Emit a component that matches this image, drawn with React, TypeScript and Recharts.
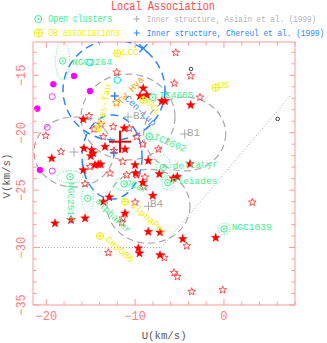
import { ScatterChart, Scatter, XAxis, YAxis, ReferenceLine } from 'recharts';

const W = 327;
const H = 343;
const LEFT = 33;
const RIGHT = 32;
const TOP = 42;
const BOTTOM = 38;
const X_MIN = -21.5;
const X_MAX = 8;
const Y_MIN = -35;
const Y_MAX = -12.1;
// pixels per km/s, used to turn ellipse radii (km/s) into screen radii
const PX_U = (W - LEFT - RIGHT) / (X_MAX - X_MIN);
const PX_V = (H - TOP - BOTTOM) / (Y_MAX - Y_MIN);

const FRAME = '#ff9a9a';
const TICK_TEXT = '#ff7c7c';
const GREEN = '#3cf08e';
const YELLOW = '#f0f000';
const ORANGE = '#ff9c00';
const GRAY = '#a8a8a8';
const BLUE = '#2c86ff';
const MONO = 'Liberation Mono, DejaVu Sans Mono, monospace';

const xTicks = [-20, -18, -16, -14, -12, -10, -8, -6, -4, -2, 0, 2, 4, 6, 8];
const xLabels = [-20, -10, 0];
const yTicks = [-35, -34, -33, -32, -31, -30, -29, -28, -27, -26, -25, -24, -23, -22, -21, -20, -19, -18, -17, -16, -15, -14, -13];
const yLabels = [-35, -30, -25, -20, -15];

// [U, V] km/s
const filledStars: [number, number][] = [
  [-9.08, -16.13], [-9.45, -16.8], [-8.7, -16.72], [-7.01, -17.24], [-6.64, -17.24], [-3.74, -17.59],
  [-15.84, -18.83], [-11.22, -19.61], [-15.76, -21.36], [-14.89, -21.5], [-14.71, -21.79], [-15.0, -22.03],
  [-13.39, -21.22], [-11.14, -21.44], [-14.52, -22.81], [-14.15, -22.75], [-13.88, -22.75], [-15.84, -23.25],
  [-10.01, -22.81], [-8.52, -22.44], [-9.94, -23.53], [-7.28, -23.59], [-9.15, -24.35], [-5.7, -23.97],
  [-5.25, -23.83], [-12.91, -25.62], [-13.58, -26.01], [-8.02, -25.48], [-19.02, -27.89], [-17.22, -27.6],
  [-15.64, -27.45], [-11.14, -27.02], [-8.52, -28.62], [-7.2, -28.67], [-9.64, -30.06], [-9.51, -30.5],
  [-7.2, -30.65], [-4.64, -29.25], [-0.93, -29.14], [-19.39, -22.23], [-3.82, -22.72],
];
const openStars: [number, number][] = [
  [-5.43, -13.03], [-12.08, -14.74], [-3.74, -15.06], [-5.59, -15.7], [-2.7, -16.92], [-15.19, -18.54],
  [-13.84, -19.27], [-12.46, -19.48], [-14.63, -19.7], [-13.58, -20.35], [-10.66, -19.61], [-9.82, -20.35],
  [-12.38, -21.57], [-9.15, -21.01], [-7.39, -21.44], [-15.08, -22.96], [-11.4, -22.52], [-12.83, -23.53],
  [-15.64, -24.46], [-9.0, -24.7], [-20.07, -20.26], [-18.35, -21.65], [-11.4, -27.45], [-11.51, -27.83],
  [-10.01, -26.06], [-13.02, -30.45], [-6.72, -30.88], [-9.82, -23.68], [-8.89, -23.88], [-10.95, -23.68],
  [-4.19, -29.86], [3.19, -26.06], [-5.62, -32.19], [-5.25, -32.54], [-3.63, -33.84], [-0.14, -33.69],
];
const magentaFilled: [number, number][] = [
  [-16.88, -15.06], [-19.21, -15.78], [-15.08, -16.37], [-21.02, -17.9], [-20.71, -23.25],
];
const magentaOpen: [number, number][] = [[-19.33, -16.86], [-19.89, -19.53], [-19.33, -23.33]];
const cyanOpen: [number, number][] = [[-15.08, -13.9], [-12.01, -15.41]];
const blackOpen: [number, number][] = [[-3.71, -14.45], [6.05, -18.8]];

// open clusters: name, U, V, ellipse radii (km/s)
const clusterNames = ['NGC2264', 'IC4665', 'IC2602', 'deltaLyr', 'Pleiades', 'NGC1039', 'NGC2516', 'alphaPer', 'oCar'];
const clusterU = [-18.16, -8.02, -8.4, -6.83, -6.33, 0.01, -17.33, -15.34, -11.25];
const clusterV = [-13.75, -16.92, -20.35, -23.01, -24.35, -28.38, -23.83, -25.71, -24.46];
const clusterRu = [0.8, 0.45, 0.45, 0.8, 0.68, 0.68, 1.46, 0.68, 1.1];
const clusterRv = [1.65, 0.4, 0.4, 1.1, 0.61, 0.48, 0.52, 1.22, 0.6];
const clusterLabelU = [-17.11, -7.28, -7.99, -5.77, -5.88, 0.87, -17.56, -14.52, -11.14];
const clusterLabelV = [-14.1, -17.0, -20.55, -23.16, -24.46, -28.43, -24.29, -26.0, -24.46];
const clusterLabelAngle = [0, 0, 22, -3, 0, 0, 90, 45, 24];

// OB associations
const obNames = ['LCC', 'US', 'UCL', 'Cas-Tau', 'alphaPer', 'CepOB6'];
const obU = [-12.01, -0.93, -9.08, -14.15, -11.14, -13.96];
const obV = [-13.08, -16.08, -17.15, -19.61, -26.01, -28.99];
const obLabelU = [-11.51, -0.67, -8.78, -13.5, -10.58, -13.39];
const obLabelV = [-13.19, -16.11, -17.41, -19.24, -26.38, -29.34];
const obLabelAngle = [0, 0, 48, -80, 41, 42];

// TW Hya association
const twHya = { u: -12.12, v: -17.41, text: 'TW Hya', labelU: -11.55, labelV: -17.6, angle: -48 };

// inner structures, Asiain et al. (1999)
const asiainNames = ['B1', 'B2', 'B3', 'B4'];
const asiainU = [-4.42, -10.8, -16.88, -8.5];
const asiainV = [-20.11, -18.63, -21.68, -26.4];
const asiainRu = [4.62, 5.29, 4.5, 4.67];
const asiainRv = [3.22, 3.74, 3.05, 3.22];
const asiainLabelU = [-4.16, -10.24, null, -8.33];
const asiainLabelV = [-20.29, -18.8, null, -26.47];

// inner structures, Chereul et al. (1999)
const chereulU = [-9.08, -12.3, -12.38];
const chereulV = [-12.65, -16.8, -21.74];
const chereulCross = [true, false, false];
const chereulEllU = [-12.38, -12.6];
const chereulEllV = [-16.28, -22.11];
const chereulEllRu = [5.74, 3.38];
const chereulEllRv = [4.35, 3.66];
const chereulLabel = { u: -11.25, v: -17.06, text: 'Cen-Lup', angle: 44 };

// Local Association mean and dispersion bars
const localMean = { u: -11.7, v: -20.78, du: 1.24, dv: 0.96 };

// Eggen's boundary (dotted)
const boundaryU = [-21.5, -7.07, 8];
const boundaryV = [-30, -30, -16.3];

const pts = (a: [number, number][]) => a.map(([u, v]) => ({ u, v }));

const starPath = (cx: number, cy: number, r: number) => {
  let d = '';
  for (let i = 0; i < 10; i++) {
    const rr = i % 2 ? r * 0.42 : r;
    const a = -Math.PI / 2 + (i * Math.PI) / 5;
    d += (i ? 'L' : 'M') + (cx + rr * Math.cos(a)).toFixed(2) + ',' + (cy + rr * Math.sin(a)).toFixed(2);
  }
  return d + 'Z';
};

const FilledStar = (p: any) => <path d={starPath(p.cx, p.cy, 4.6)} fill="#ff0000" stroke="#ff0000" strokeWidth={0.4} />;
const OpenStar = (p: any) => <path d={starPath(p.cx, p.cy, 4)} fill="none" stroke="#ff3c3c" strokeWidth={0.9} />;
const OrangeStar = (p: any) => <path d={starPath(p.cx, p.cy, 4)} fill="none" stroke={ORANGE} strokeWidth={1} />;

const ellipseShape = (color: string, dash: string, width: number) => (p: any) => (
  <ellipse cx={p.cx} cy={p.cy} rx={p.payload.ru * PX_U} ry={p.payload.rv * PX_V} fill="none" stroke={color} strokeDasharray={dash} strokeWidth={width} />
);

const dotShape = (color: string, filled: boolean, r: number) => (p: any) => (
  <circle cx={p.cx} cy={p.cy} r={r} fill={filled ? color : 'none'} stroke={color} strokeWidth={1} />
);

const ClusterMark = (p: any) => (
  <g>
    <circle cx={p.cx} cy={p.cy} r={3.2} fill="none" stroke={GREEN} strokeWidth={1} />
    <circle cx={p.cx} cy={p.cy} r={0.9} fill={GREEN} />
  </g>
);

const ObMark = (p: any) => (
  <g stroke={YELLOW} strokeWidth={1} fill="none">
    <circle cx={p.cx} cy={p.cy} r={3.5} />
    <line x1={p.cx - 3.5} x2={p.cx + 3.5} y1={p.cy} y2={p.cy} />
    <line x1={p.cx} x2={p.cx} y1={p.cy - 3.5} y2={p.cy + 3.5} />
  </g>
);

const plusShape = (color: string, s: number, w: number) => (p: any) => (
  <g stroke={color} strokeWidth={w}>
    {p.payload.cross ? (
      <>
        <line x1={p.cx - s} x2={p.cx + s} y1={p.cy - s} y2={p.cy + s} />
        <line x1={p.cx - s} x2={p.cx + s} y1={p.cy + s} y2={p.cy - s} />
      </>
    ) : (
      <>
        <line x1={p.cx - s} x2={p.cx + s} y1={p.cy} y2={p.cy} />
        <line x1={p.cx} x2={p.cx} y1={p.cy - s} y2={p.cy + s} />
      </>
    )}
  </g>
);

const MeanCross = (p: any) => {
  const dx = p.payload.du * PX_U;
  const dy = p.payload.dv * PX_V;
  return (
    <g stroke="#e30000" strokeWidth={2}>
      <line x1={p.cx - dx} x2={p.cx + dx} y1={p.cy} y2={p.cy} />
      <line x1={p.cx} x2={p.cx} y1={p.cy - dy} y2={p.cy + dy} />
    </g>
  );
};

const labelShape = (size: number) => (p: any) => (
  <text
    x={p.cx}
    y={p.cy}
    fill={p.payload.color}
    fontSize={size}
    fontFamily={MONO}
    transform={p.payload.angle ? `rotate(${p.payload.angle} ${p.cx} ${p.cy})` : undefined}
  >
    {p.payload.text}
  </text>
);

const fmt = (v: number) => (v < 0 ? '\u2212' + Math.abs(v) : String(v));

const BottomTick = (p: any) => {
  const major = xLabels.includes(p.payload.value);
  return (
    <g>
      <line x1={p.x} x2={p.x} y1={p.y} y2={p.y - (major ? 6 : 3.5)} stroke={FRAME} />
      {major && (
        <text x={p.x} y={p.y + 14.5} textAnchor="middle" fill={TICK_TEXT} fontSize={12} fontFamily={MONO}>
          {fmt(p.payload.value)}
        </text>
      )}
    </g>
  );
};
const TopTick = (p: any) => {
  const major = xLabels.includes(p.payload.value);
  return <line x1={p.x} x2={p.x} y1={p.y} y2={p.y + (major ? 6 : 3.5)} stroke={FRAME} />;
};
const LeftTick = (p: any) => {
  const major = yLabels.includes(p.payload.value);
  return (
    <g>
      <line x1={p.x} x2={p.x + (major ? 6 : 3.5)} y1={p.y} y2={p.y} stroke={FRAME} />
      {major && (
        <text x={p.x - 8} y={p.y} textAnchor="middle" fill={TICK_TEXT} fontSize={12} fontFamily={MONO} transform={`rotate(-90 ${p.x - 8} ${p.y})`}>
          {fmt(p.payload.value)}
        </text>
      )}
    </g>
  );
};
const RightTick = (p: any) => {
  const major = yLabels.includes(p.payload.value);
  return <line x1={p.x} x2={p.x - (major ? 6 : 3.5)} y1={p.y} y2={p.y} stroke={FRAME} />;
};

// legend text: monospace, stretched vertically so the narrow PGPLOT look is kept
const LegendText = ({ x, y, size, color, children }: any) => (
  <g transform={`translate(${x} ${y}) scale(1 1.28)`}>
    <text x={0} y={0} fill={color} fontSize={size} fontFamily={MONO}>
      {children}
    </text>
  </g>
);

export default function App() {
  const clusters = clusterNames.map((n, i) => ({ u: clusterU[i], v: clusterV[i], ru: clusterRu[i], rv: clusterRv[i] }));
  const clusterLabels = clusterNames.map((n, i) => ({ u: clusterLabelU[i], v: clusterLabelV[i], text: n, angle: clusterLabelAngle[i], color: GREEN }));
  const obs = obNames.map((n, i) => ({ u: obU[i], v: obV[i] }));
  const obLabels = obNames.map((n, i) => ({ u: obLabelU[i], v: obLabelV[i], text: n, angle: obLabelAngle[i], color: YELLOW }));
  const asiain = asiainNames.map((n, i) => ({ u: asiainU[i], v: asiainV[i], ru: asiainRu[i], rv: asiainRv[i] }));
  const asiainLabels = asiainNames
    .map((n, i) => ({ u: asiainLabelU[i], v: asiainLabelV[i], text: n, angle: 0, color: GRAY }))
    .filter((d) => d.u !== null);
  const chereul = chereulU.map((u, i) => ({ u, v: chereulV[i], cross: chereulCross[i] }));
  const chereulEll = chereulEllU.map((u, i) => ({ u, v: chereulEllV[i], ru: chereulEllRu[i], rv: chereulEllRv[i] }));

  return (
    <div style={{ position: 'absolute', left: 0, top: 0, width: W, height: H, background: '#fff' }}>
      <ScatterChart width={W} height={H} margin={{ top: 0, right: 0, bottom: 0, left: 0 }}>
        <XAxis type="number" dataKey="u" domain={[X_MIN, X_MAX]} allowDataOverflow ticks={xTicks} interval={0}
          height={BOTTOM} tickSize={0} tickMargin={0} tickLine={false} tick={BottomTick} axisLine={{ stroke: FRAME }} />
        <XAxis xAxisId="top" orientation="top" type="number" dataKey="u" domain={[X_MIN, X_MAX]} allowDataOverflow ticks={xTicks} interval={0}
          height={TOP} tickSize={0} tickMargin={0} tickLine={false} tick={TopTick} axisLine={{ stroke: FRAME }} />
        <YAxis type="number" dataKey="v" domain={[Y_MIN, Y_MAX]} allowDataOverflow ticks={yTicks} interval={0}
          width={LEFT} tickSize={0} tickMargin={0} tickLine={false} tick={LeftTick} axisLine={{ stroke: FRAME }} />
        <YAxis yAxisId="right" orientation="right" type="number" dataKey="v" domain={[Y_MIN, Y_MAX]} allowDataOverflow ticks={yTicks} interval={0}
          width={RIGHT} tickSize={0} tickMargin={0} tickLine={false} tick={RightTick} axisLine={{ stroke: FRAME }} />

        <Scatter data={asiain} shape={ellipseShape(GRAY, '7 4', 1.2)} isAnimationActive={false} />
        <Scatter data={chereulEll} shape={ellipseShape(BLUE, '8 5', 1.5)} isAnimationActive={false} />
        <Scatter data={clusters} shape={ellipseShape(GREEN, '1 1.6', 1)} isAnimationActive={false} />

        <ReferenceLine segment={[{ x: boundaryU[0], y: boundaryV[0] }, { x: boundaryU[1], y: boundaryV[1] }]} stroke={GRAY} strokeDasharray="1 2" ifOverflow="hidden" />
        <ReferenceLine segment={[{ x: boundaryU[1], y: boundaryV[1] }, { x: boundaryU[2], y: boundaryV[2] }]} stroke={GRAY} strokeDasharray="1 2" ifOverflow="hidden" />

        <Scatter data={pts(magentaFilled)} shape={dotShape('#ff00ff', true, 2.8)} isAnimationActive={false} />
        <Scatter data={pts(magentaOpen)} shape={dotShape('#ff33ff', false, 3)} isAnimationActive={false} />
        <Scatter data={pts(cyanOpen)} shape={dotShape('#00e4ff', false, 3.3)} isAnimationActive={false} />
        <Scatter data={pts(blackOpen)} shape={dotShape('#444', false, 1.8)} isAnimationActive={false} />
        <Scatter data={asiain} shape={plusShape(GRAY, 4.5, 1)} isAnimationActive={false} />
        <Scatter data={chereul} shape={plusShape(BLUE, 4, 1.5)} isAnimationActive={false} />

        <Scatter data={pts(openStars)} shape={OpenStar} isAnimationActive={false} />
        <Scatter data={pts(filledStars)} shape={FilledStar} isAnimationActive={false} />

        <Scatter data={obs} shape={ObMark} isAnimationActive={false} />
        <Scatter data={[twHya]} shape={OrangeStar} isAnimationActive={false} />
        <Scatter data={clusters} shape={ClusterMark} isAnimationActive={false} />
        <Scatter data={[localMean]} shape={MeanCross} isAnimationActive={false} />

        <Scatter data={clusterLabels} shape={labelShape(9.5)} isAnimationActive={false} />
        <Scatter data={obLabels} shape={labelShape(9.5)} isAnimationActive={false} />
        <Scatter data={[{ u: twHya.labelU, v: twHya.labelV, text: twHya.text, angle: twHya.angle, color: ORANGE }]} shape={labelShape(9.5)} isAnimationActive={false} />
        <Scatter data={[{ ...chereulLabel, color: '#3f8cff' }]} shape={labelShape(9.5)} isAnimationActive={false} />
        <Scatter data={asiainLabels} shape={labelShape(11)} isAnimationActive={false} />
      </ScatterChart>

      <svg width={W} height={H} style={{ position: 'absolute', left: 0, top: 0, pointerEvents: 'none' }}>
        <LegendText x={111} y={10} size={10.2} color="#ff4a4a">Local Association</LegendText>

        <circle cx={38.3} cy={19} r={3.5} fill="none" stroke={GREEN} />
        <circle cx={38.3} cy={19} r={0.9} fill={GREEN} />
        <LegendText x={48.3} y={22} size={8.2} color={GREEN}>Open clusters</LegendText>
        <g stroke={GRAY}>
          <line x1={133.7} x2={139.7} y1={19} y2={19} />
          <line x1={136.7} x2={136.7} y1={16} y2={22} />
        </g>
        <LegendText x={146.7} y={22} size={7.65} color="#b4b4b4">Inner structure, Asiain et al. (1999)</LegendText>

        <g stroke={YELLOW} fill="none">
          <circle cx={38.3} cy={33} r={4} />
          <line x1={34.3} x2={42.3} y1={33} y2={33} />
          <line x1={38.3} x2={38.3} y1={29} y2={37} />
        </g>
        <LegendText x={48.3} y={36} size={8} color={YELLOW}>OB associations</LegendText>
        <g stroke={BLUE}>
          <line x1={133.7} x2={139.7} y1={33} y2={33} />
          <line x1={136.7} x2={136.7} y1={30} y2={36} />
        </g>
        <LegendText x={146.7} y={36} size={7.8} color={BLUE}>Inner structure, Chereul et al. (1999)</LegendText>

        <text x={141.7} y={339} fill="#5a5a5a" fontSize={10.7} fontFamily={MONO}>U(km/s)</text>
        <text x={9.5} y={176} fill="#5a5a5a" fontSize={10.7} fontFamily={MONO} textAnchor="middle" transform="rotate(-90 9.5 176)">V(km/s)</text>
      </svg>
    </div>
  );
}
